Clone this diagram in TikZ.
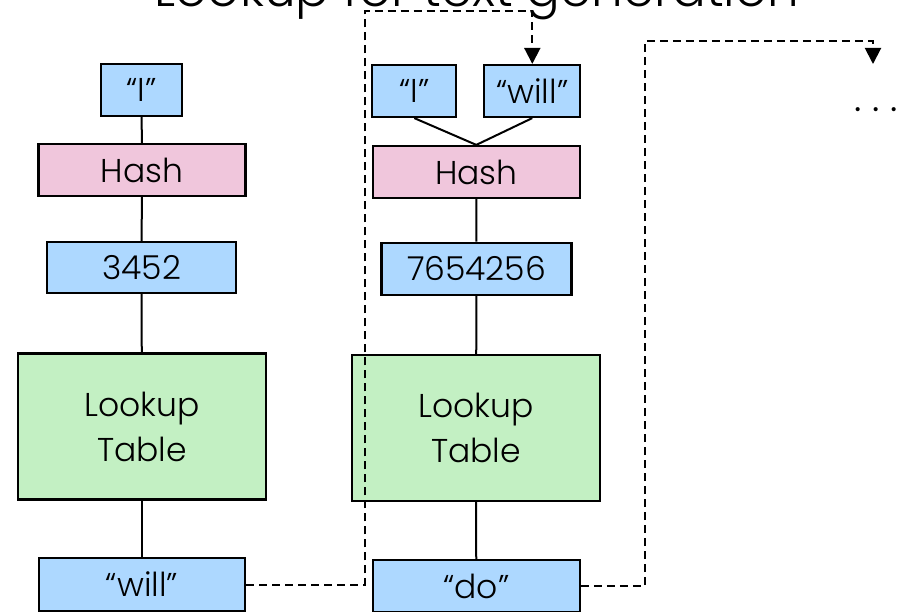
\documentclass[tikz,border=0pt]{standalone}
\usepackage{fontspec}
\setmainfont{Poppins Light}
\usetikzlibrary{arrows.meta,positioning,calc}
\definecolor{keyblue}{HTML}{ADD8FF}
\definecolor{hashpink}{HTML}{F0C6DC}
\definecolor{tablegreen}{HTML}{C3F0C3}
\tikzset{
  box/.style={draw=black,line width=2.2pt,inner sep=0pt,font=\fontsize{33}{45}\selectfont},
  word/.style={box,fill=keyblue},
  hashbox/.style={box,fill=hashpink,minimum width=207pt,minimum height=52pt},
  lookup/.style={box,fill=tablegreen,align=center,minimum width=248pt,minimum height=146pt},
  link/.style={line width=2pt},
  feed/.style={line width=2pt,dash pattern=on 8pt off 5pt}
}

\begin{document}
\begin{tikzpicture}[x=1pt,y=-1pt,>={Triangle[length=16pt,width=16pt]}]
\useasboundingbox (0,0) rectangle (905,612);
\node[anchor=base,font=\fontsize{50}{60}\selectfont] (title) at (477,7){Lookup for text generation};
% first step
\node[word,minimum width=81pt,minimum height=52pt] (i1) at (141.5,90){“I”};
\node[hashbox] (h1) at (142,170){Hash};
\node[word,minimum width=189pt,minimum height=51pt] (n1) at (141.5,267.5){3452};
\node[lookup] (t1) at (142,426.5){Lookup\\Table};
\node[word,minimum width=206pt,minimum height=53pt] (o1) at (142,584.5){“will”};
\foreach \a/\b in {i1/h1,h1/n1,n1/t1,t1/o1}{\draw[link] (\a)--(\b);}
% second step
\node[word,minimum width=84pt,minimum height=52pt] (i2) at (414.3,91){“I”};
\node[word,minimum width=96pt,minimum height=52pt] (i2w) at (532.3,91){“will”};
\node[hashbox] (h2) at (476.3,172){Hash};
\node[word,minimum width=190pt,minimum height=52pt] (n2) at (476.5,268.7){7654256};
\node[lookup] (t2) at (476,428){Lookup\\Table};
\node[word,minimum width=207pt,minimum height=52pt] (o2) at (476.3,586){“do”};
\draw[link] (i2.south)--(h2.north) (i2w.south)--(h2.north);
\foreach \a/\b in {h2/n2,n2/t2,t2/o2}{\draw[link] (\a)--(\b);}
% feedback
\coordinate (up1) at (365,11);
\coordinate (up2) at (645,41);
\coordinate (next) at (873,64);
\draw[feed,->] (o1.east) -| (up1) -| (i2w.north);
\draw[feed,->] (o2.east) -| (up2) -| (next);
\node[font=\fontsize{40}{44}\selectfont,anchor=base] (more) at (876,112){.\hspace{11pt}.\hspace{11pt}.};
\end{tikzpicture}
\end{document}
